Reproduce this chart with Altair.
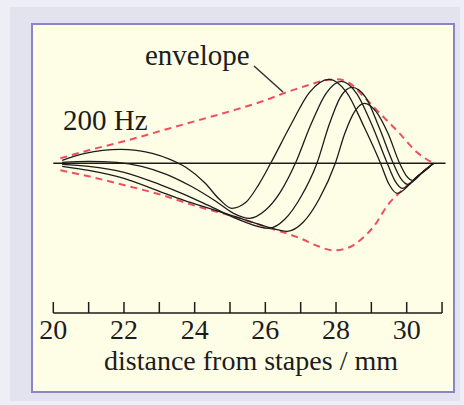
import altair as alt
import pandas as pd

# Snapshots of the travelling wave (displacement, arbitrary units) at four instants
c1_x = [20.25, 20.9, 21.9, 22.8, 23.3, 23.75, 24.3, 24.7, 25.05, 25.45, 25.8, 26.15, 26.7, 27.25, 27.8, 28.3, 28.8, 29.26, 29.5, 29.73, 30.25, 30.76]
c1_y = [3, 10, 14, 10, 4, -4, -20, -36, -45, -39, -22, 0, 37, 71, 84, 71, 36, 0, -21, -30, -15, 0]

c2_x = [20.25, 21.0, 21.8, 22.5, 23.2, 23.9, 24.6, 25.1, 25.55, 26.0, 26.42, 26.85, 27.28, 27.72, 28.15, 28.58, 29.02, 29.45, 29.66, 29.88, 30.32, 30.76]
c2_y = [1, 2, 1, -3, -11, -23, -38, -50, -55, -47, -29, 0, 38, 70, 82, 70, 38, 0, -17, -25, -12.5, 0]

c3_x = [20.25, 21.0, 22.0, 23.0, 23.7, 24.5, 25.3, 26.1, 26.55, 27.0, 27.46, 27.8, 28.12, 28.45, 28.84, 29.23, 29.62, 29.83, 30.03, 30.4, 30.76]
c3_y = [-1, -3, -9, -21, -31, -44, -57, -65, -56, -34, 0, 38, 66, 76, 66, 35, 0, -15, -21, -10.5, 0]

c4_x = [20.25, 21.0, 22.0, 23.0, 23.7, 24.5, 25.3, 26.0, 26.62, 27.07, 27.52, 27.98, 28.25, 28.53, 28.8, 29.13, 29.47, 29.8, 29.98, 30.17, 30.46, 30.76]
c4_y = [-3, -7, -15, -28, -37, -46, -55, -63, -68, -59, -36, 0, 30, 52, 60, 52, 30, 0, -12, -17, -8.5, 0]

# Envelope of the wave
env_up_x = [20.2, 21.0, 22.0, 23.0, 24.0, 25.0, 26.0, 26.6, 27.2, 27.7, 28.03, 28.35, 28.8, 29.35, 29.77, 30.29, 30.76]
env_up_y = [5, 13, 22, 32, 42, 52, 63, 71, 78, 83, 84, 81, 66, 46, 31, 11, 0]
env_lo_x = [20.2, 21.0, 21.8, 23.0, 24.16, 25.0, 26.05, 26.99, 27.5, 27.92, 28.3, 28.78, 29.07, 29.5, 29.75, 30.25, 30.76]
env_lo_y = [-7, -13, -20, -31, -44, -52, -64, -75, -83, -87, -85, -74, -63, -40, -31, -15, 0]

# Distance axis
tick_values = list(range(20, 32))
label_values = [20, 22, 24, 26, 28, 30]
axis_start, axis_end = 20, 31
zero_start, zero_end = 20, 31.1

SERIF = "Liberation Serif"
INK = "#1c1c1c"

curves = pd.concat([
    pd.DataFrame({"x": xs, "y": ys, "snap": name})
    for name, xs, ys in [("t1", c1_x, c1_y), ("t2", c2_x, c2_y),
                         ("t3", c3_x, c3_y), ("t4", c4_x, c4_y)]
], ignore_index=True)
envelope = pd.concat([
    pd.DataFrame({"x": env_up_x, "y": env_up_y, "side": "upper"}),
    pd.DataFrame({"x": env_lo_x, "y": env_lo_y, "side": "lower"}),
], ignore_index=True)

xs = alt.Scale(domain=[18.4918, 31.6214], nice=False, zero=False)
ys = alt.Scale(domain=[-241.7, 163.3], nice=False, zero=False)

one = pd.DataFrame({"k": [0]})

frame = alt.Chart(one).mark_rect(fill="#e3e3f0").encode(
    x=alt.value(10), x2=alt.value(460), y=alt.value(7), y2=alt.value(401)
)

panel = alt.Chart(one).mark_rect(
    fill="#fefee7", stroke="#8a84c8", strokeWidth=2
).encode(x=alt.value(32), x2=alt.value(454), y=alt.value(24), y2=alt.value(392))

zero_line = alt.Chart(pd.DataFrame({"a": [zero_start], "b": [zero_end], "y": [0]})).mark_rule(
    color=INK, strokeWidth=1.6
).encode(
    x=alt.X("a:Q", scale=xs, axis=None),
    x2="b:Q",
    y=alt.Y("y:Q", scale=ys, axis=None),
)

envelope_lines = alt.Chart(envelope).mark_line(
    color="#ee4f5e", strokeWidth=2, strokeDash=[7, 5], interpolate="monotone"
).encode(
    x=alt.X("x:Q", scale=xs, axis=None),
    y=alt.Y("y:Q", scale=ys, axis=None),
    detail="side:N",
)

wave_lines = alt.Chart(curves).mark_line(
    color=INK, strokeWidth=1.3, interpolate="monotone"
).encode(
    x=alt.X("x:Q", scale=xs, axis=None),
    y=alt.Y("y:Q", scale=ys, axis=None),
    detail="snap:N",
)

axis_line = alt.Chart(pd.DataFrame({"a": [axis_start], "b": [axis_end]})).mark_rule(
    color=INK, strokeWidth=1.5
).encode(x=alt.X("a:Q", scale=xs, axis=None), x2="b:Q", y=alt.value(313))

ticks = alt.Chart(pd.DataFrame({"t": tick_values})).mark_rule(
    color=INK, strokeWidth=1.5
).encode(x=alt.X("t:Q", scale=xs, axis=None), y=alt.value(302), y2=alt.value(313))

tick_labels = alt.Chart(pd.DataFrame({"t": label_values})).mark_text(
    font=SERIF, fontSize=28, color=INK, align="center", baseline="alphabetic"
).encode(x=alt.X("t:Q", scale=xs, axis=None), y=alt.value(339), text="t:Q")

def label(txt, px, py, align="left", size=29):
    return alt.Chart(one).mark_text(
        text=txt, font=SERIF, fontSize=size, color=INK, align=align, baseline="alphabetic"
    ).encode(x=alt.value(px), y=alt.value(py))

axis_title = label("distance from stapes / mm", 251, 370, align="center", size=28)
freq_label = label("200 Hz", 63, 130)
env_label = label("envelope", 145, 65)

pointer = alt.Chart(one).mark_rule(color="#333333", strokeWidth=1.5).encode(
    x=alt.value(254), y=alt.value(66), x2=alt.value(283), y2=alt.value(92)
)

chart = alt.layer(
    frame, panel, zero_line, envelope_lines, wave_lines,
    axis_line, ticks, tick_labels, axis_title, freq_label, env_label, pointer,
).properties(
    width=464, height=405, padding=0, autosize="none", background="#eeeef7"
).configure_view(strokeWidth=0)

chart.save("out.html", embed_options={"renderer": "svg", "actions": False})
